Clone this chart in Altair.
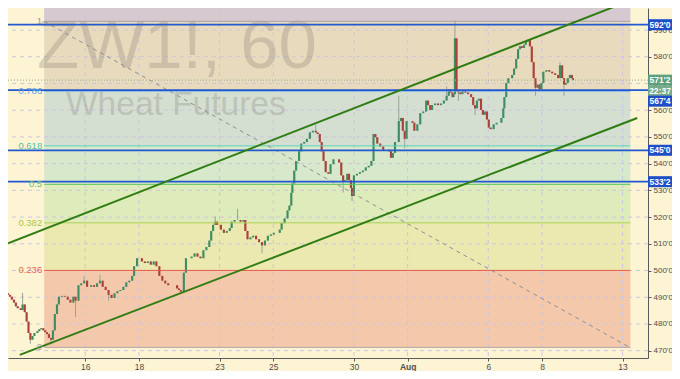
import altair as alt
import pandas as pd

# ---------------- data (time in trading days from Jul 16; prices in cents) ----------------
t = [-2.87, -2.80, -2.73, -2.65, -2.58, -2.51, -2.40, -2.33, -2.25, -2.18,
     -2.11, -2.04, -1.96, -1.89, -1.78, -1.71, -1.64, -1.56, -1.49, -1.42,
     -1.35, -1.27, -1.20, -1.13, -1.05, -0.98, -0.87, -0.76, -0.65, -0.55,
     -0.44, -0.36, -0.25, -0.15, -0.04, 0.07, 0.22, 0.33, 0.44, 0.55,
     0.65, 0.76, 0.87, 0.98, 1.09, 1.20, 1.31, 1.42, 1.53, 1.64,
     1.75, 1.82, 1.93, 2.00, 2.11, 2.22, 2.33, 2.44, 2.55, 2.65,
     2.76, 2.87, 2.98, 3.09, 3.20, 3.31, 3.42, 3.49, 3.56, 3.67,
     3.75, 3.85, 3.96, 4.07, 4.18, 4.29, 4.40, 4.51, 4.62, 4.69,
     4.76, 4.84, 4.91, 4.98, 5.05, 5.16, 5.27, 5.38, 5.45, 5.56,
     5.67, 5.78, 5.89, 5.96, 6.04, 6.15, 6.25, 6.36, 6.47, 6.58,
     6.69, 6.80, 6.91, 7.02, 7.13, 7.24, 7.31, 7.42, 7.53, 7.60,
     7.67, 7.71, 7.78, 7.85, 7.96, 8.04, 8.15, 8.25, 8.36, 8.47,
     8.58, 8.65, 8.73, 8.80, 8.87, 8.95, 9.05, 9.13, 9.24, 9.35,
     9.45, 9.53, 9.60, 9.67, 9.75, 9.82, 9.89, 9.93, 10.00, 10.11,
     10.22, 10.33, 10.44, 10.55, 10.65, 10.73, 10.80, 10.87, 10.98, 11.09,
     11.20, 11.31, 11.38, 11.45, 11.53, 11.60, 11.67, 11.75, 11.82, 11.89,
     11.96, 12.07, 12.18, 12.25, 12.36, 12.47, 12.58, 12.69, 12.76, 12.84,
     12.91, 13.02, 13.13, 13.24, 13.35, 13.45, 13.53, 13.60, 13.67, 13.71,
     13.76, 13.82, 13.89, 13.96, 14.04, 14.15, 14.25, 14.36, 14.44, 14.51,
     14.58, 14.65, 14.73, 14.80, 14.87, 14.95, 15.02, 15.09, 15.20, 15.31,
     15.42, 15.49, 15.56, 15.60, 15.67, 15.75, 15.82, 15.89, 15.96, 16.04,
     16.11, 16.18, 16.25, 16.33, 16.40, 16.47, 16.55, 16.62, 16.69, 16.76,
     16.84, 16.91, 16.98, 17.05, 17.16, 17.27, 17.38, 17.49, 17.60, 17.67,
     17.75, 17.82, 17.89, 17.96, 18.04, 18.11, 18.15]

close = [490.9, 490.2, 489.1, 488.0, 486.6, 485.9, 485.2, 487.3, 484.4, 480.9,
         476.6, 474.1, 475.5, 476.6, 477.3, 478.0, 478.4, 477.6, 476.9, 476.2,
         474.8, 474.1, 477.6, 483.7, 487.3, 490.2, 490.5, 490.2, 489.1, 488.0,
         490.2, 488.7, 494.5, 495.2, 496.2, 493.9, 494.5, 493.9, 495.2, 496.2,
         493.9, 492.7, 490.9, 489.7, 491.5, 492.3, 492.7, 493.9, 495.6, 496.2,
         498.0, 501.6, 504.6, 504.6, 503.4, 502.8, 503.4, 502.2, 503.4, 501.6,
         498.0, 496.2, 495.2, 494.5, 494.5, 494.5, 493.3, 492.7, 492.1, 499.2,
         504.6, 504.6, 505.2, 506.4, 505.2, 504.6, 507.6, 508.8, 511.2, 514.8,
         517.1, 518.3, 517.1, 517.1, 515.3, 514.1, 514.8, 515.9, 518.3, 518.9,
         518.9, 518.3, 518.9, 514.8, 511.7, 512.4, 513.0, 511.7, 510.6, 509.4,
         511.2, 513.0, 513.5, 514.1, 514.1, 515.3, 517.7, 519.5, 522.5, 524.3,
         529.1, 532.6, 537.4, 541.0, 544.6, 547.5, 548.1, 549.3, 551.7, 552.3,
         551.7, 551.1, 548.1, 544.6, 541.0, 536.8, 536.2, 539.8, 541.6, 541.6,
         540.4, 535.6, 533.2, 533.8, 536.2, 533.8, 530.9, 527.9, 535.6, 536.2,
         536.8, 537.4, 538.6, 539.2, 541.0, 551.1, 549.9, 547.5, 546.4, 545.2,
         545.2, 544.6, 542.2, 544.0, 548.1, 548.1, 555.9, 557.1, 552.3, 549.3,
         555.9, 555.9, 555.3, 552.3, 554.7, 558.9, 559.5, 563.6, 561.9, 560.1,
         561.9, 562.5, 561.9, 562.5, 563.6, 565.4, 567.8, 566.6, 564.9, 566.0,
         586.9, 567.1, 566.6, 566.0, 567.2, 566.6, 566.0, 564.9, 561.9, 560.7,
         563.6, 564.3, 560.1, 558.3, 559.5, 556.5, 553.5, 552.9, 554.7, 555.3,
         555.3, 557.1, 560.7, 564.9, 570.2, 572.0, 572.0, 573.2, 575.6, 579.2,
         582.8, 583.9, 583.3, 584.5, 585.7, 586.3, 583.9, 578.0, 572.0, 568.4,
         569.6, 567.8, 570.2, 574.4, 575.0, 574.4, 573.8, 573.2, 572.0, 576.8,
         572.0, 569.6, 570.2, 572.0, 573.2, 572.0, 571.25]
first_open = 491.5

wick_hi_t = [-2.33, -0.04, 0.55, 4.84, 5.67, 8.58, 11.67, 13.45, 13.76, 17.67]
wick_hi_v = [491.6, 498.0, 498.4, 520.2, 523.1, 554.6, 565.4, 568.9, 593.6, 578.0]
wick_lo_t = [-2.04, -1.27, -0.36, 0.87, 6.58, 9.60, 9.93, 11.89, 13.89, 14.51, 16.76, 17.82]
wick_lo_v = [472.6, 472.3, 482.6, 488.7, 506.4, 529.2, 526.1, 545.7, 563.5, 558.2, 565.4, 565.4]

# Fibonacci retracement tool
fib_low, fib_high = 471.25, 593.25
fib_t0, fib_t1 = -1.527, 20.29
fib_levels = [0, 0.236, 0.382, 0.5, 0.618, 0.786, 1]
fib_texts = ["0", "0.236", "0.382", "0.5", "0.618", "0.786", "1"]
fib_line_colors = ["#b3a3a6", "#e8584a", "#a9d155", "#5cc85c", "#5fd0b8", "#64a8e8", "#aaa0a8"]
fib_label_colors = ["#a0a0a0", "#e8665a", "#a8c840", "#66c46a", "#4fbfa6", "#5ea6de", "#9a9a9a"]
band_from = [0, 0.236, 0.382, 0.5, 0.618, 0.786, 1]
band_to = [0.236, 0.382, 0.5, 0.618, 0.786, 1, 1.618]
band_colors = ["#f4c9ab", "#ebe8b0", "#deebba", "#d8e8cb", "#d4dfd2", "#e8dbbd", "#d6c9cf"]

# horizontal levels, last price
hline_prices = [592, 567.5, 545, 533.25]
last_price = 571.25
countdown = "22:37"

# trend channel and diagonal
upper_t, upper_p = [-2.873, 20.945], [510.2, 603.65]
lower_t, lower_p = [-2.436, 20.545], [468.44, 557.09]
diag_t, diag_p = [-1.527, 20.2], [593.25, 471.6]

x_ticks = [0, 2, 5, 7, 10, 12, 15, 17, 20]
x_labels = ["16", "18", "23", "25", "30", "Aug", "6", "8", "13"]
y_ticks = list(range(470, 600, 10))

X_DOMAIN = [-2.873, 20.945]
Y_DOMAIN = [467.26, 598.25]

W, H = 640, 350
BG = "#fdf4d4"
UP, DOWN = "#3f8d62", "#ad4038"
BLUE = "#2358d0"
FONT = "Liberation Sans"

# ---------------- build tables ----------------
opens = [first_open] + close[:-1]
high = [max(o, c) for o, c in zip(opens, close)]
low = [min(o, c) for o, c in zip(opens, close)]
for wt, wv in zip(wick_hi_t, wick_hi_v):
    i = min(range(len(t)), key=lambda k: abs(t[k] - wt))
    high[i] = max(high[i], wv)
for wt, wv in zip(wick_lo_t, wick_lo_v):
    i = min(range(len(t)), key=lambda k: abs(t[k] - wt))
    low[i] = min(low[i], wv)
candles = pd.DataFrame({"t": t, "open": opens, "close": close, "high": high, "low": low})


def lvl_price(l):
    return fib_low + l * (fib_high - fib_low)


bands = pd.DataFrame({
    "x0": fib_t0, "x1": fib_t1,
    "ylo": [lvl_price(a) for a in band_from],
    "yhi": [lvl_price(b) for b in band_to],
    "col": band_colors,
})
fiblines = pd.DataFrame({
    "x0": fib_t0, "x1": fib_t1,
    "p": [lvl_price(l) for l in fib_levels],
    "col": fib_line_colors, "lcol": fib_label_colors, "txt": fib_texts,
})


def fmt_price(p):
    whole = int(p)
    return f"{whole}'{int(round((p - whole) * 8))}"


xs = alt.Scale(domain=X_DOMAIN, nice=False, zero=False)
ys = alt.Scale(domain=Y_DOMAIN, nice=False, zero=False)

xexpr = "''"
for v, lab in reversed(list(zip(x_ticks, x_labels))):
    xexpr = f"datum.value == {v} ? '{lab}' : ({xexpr})"

x_axis = alt.Axis(values=x_ticks, labelExpr=xexpr, grid=False, title=None,
                  domainColor="#5a5a5a", tickColor="#5a5a5a", tickSize=3,
                  labelColor="#4d4d4d", labelFontSize=8.5, labelFont=FONT, labelPadding=1,
                  labelFontWeight={"condition": {"test": "datum.value == 12", "value": "bold"},
                                   "value": "normal"})
y_axis = alt.Axis(orient="right", values=y_ticks, labelExpr="format(datum.value, 'd') + \"'0\"",
                  grid=False, title=None, domainColor="#5a5a5a", tickColor="#5a5a5a",
                  tickSize=3, labelColor="#4d4d4d", labelFontSize=8, labelFont=FONT,
                  labelPadding=2)


def X(f):
    return alt.X(f, type="quantitative", scale=xs, axis=x_axis)


def Y(f):
    return alt.Y(f, type="quantitative", scale=ys, axis=y_axis)


# ---------------- layers ----------------
band_layer = alt.Chart(bands).mark_rect(clip=True).encode(
    x=X("x0"), x2="x1", y=Y("ylo"), y2="yhi",
    color=alt.Color("col:N", scale=None),
)

vgrid = alt.Chart(pd.DataFrame({"v": x_ticks})).mark_rule(
    color="#cdc5df", strokeDash=[4, 4], strokeWidth=1).encode(x=X("v"))
hgrid = alt.Chart(pd.DataFrame({"v": y_ticks})).mark_rule(
    color="#cdc5df", strokeDash=[4, 4], strokeWidth=1).encode(y=Y("v"))

wm1 = alt.Chart(pd.DataFrame({"s": ["ZW1!, 60"]})).mark_text(
    font=FONT, fontSize=69, align="left", baseline="alphabetic", color="#8a8578", opacity=0.3
).encode(x=alt.value(29), y=alt.value(60), text="s:N")
wm2 = alt.Chart(pd.DataFrame({"s": ["Wheat Futures"]})).mark_text(
    font=FONT, fontSize=33.5, align="left", baseline="alphabetic", color="#8a8578", opacity=0.3
).encode(x=alt.value(58), y=alt.value(107), text="s:N")

cbase = alt.Chart(candles)
wicks = cbase.mark_rule(color="#98a49c", strokeWidth=1).encode(
    x=X("t"), y=Y("low"), y2="high")
bodies = cbase.transform_calculate(xa="datum.t - 0.04", xb="datum.t + 0.04").mark_rect().encode(
    x=X("xa"), x2="xb", y=Y("open"), y2="close",
    color=alt.condition("datum.close >= datum.open", alt.value(UP), alt.value(DOWN)),
)

fib_rules = alt.Chart(fiblines).mark_rule(strokeWidth=1).encode(
    x=X("x0"), x2="x1", y=Y("p"), color=alt.Color("col:N", scale=None))
fib_text = alt.Chart(fiblines).mark_text(
    font=FONT, fontSize=9.5, align="right", baseline="middle", dx=-2).encode(
    x=X("x0"), y=Y("p"), text="txt:N", color=alt.Color("lcol:N", scale=None))

diag = alt.Chart(pd.DataFrame({"t": diag_t, "p": diag_p})).mark_line(
    color="#8f8f8f", strokeDash=[4, 4], strokeWidth=1).encode(x=X("t"), y=Y("p"))

chan_up = alt.Chart(pd.DataFrame({"t": upper_t, "p": upper_p})).mark_line(
    color="#2f7d13", strokeWidth=2, clip=True).encode(x=X("t"), y=Y("p"))
chan_lo = alt.Chart(pd.DataFrame({"t": lower_t, "p": lower_p})).mark_line(
    color="#2f7d13", strokeWidth=2, clip=True).encode(x=X("t"), y=Y("p"))

hlines = alt.Chart(pd.DataFrame({"p": hline_prices})).mark_rule(
    color=BLUE, strokeWidth=1.8).encode(y=Y("p"))

last_line = alt.Chart(pd.DataFrame({"p": [last_price]})).mark_rule(
    color="#9fb89a", strokeDash=[1, 2], strokeWidth=1.3).encode(y=Y("p"))

# right-hand price tags
BOX = "M-1,-0.46L1,-0.46L1,0.46L-1,0.46Z"
tags_main = pd.DataFrame({
    "p": [592, last_price, 545, 533.25],
    "txt": [fmt_price(592), fmt_price(last_price), fmt_price(545), fmt_price(533.25)],
    "col": ["#1f4fc8", "#5e9f7d", "#1f4fc8", "#1f4fc8"],
})
tags_shift = pd.DataFrame({
    "p": [last_price, 567.5],
    "txt": [countdown, fmt_price(567.5)],
    "col": ["#76ab8c", "#1f4fc8"],
})


def tag_layers(df, off):
    box = alt.Chart(df).mark_point(shape=BOX, size=576, filled=True, opacity=1,
                                   strokeWidth=0, yOffset=off).encode(
        x=alt.value(652), y=Y("p"), color=alt.Color("col:N", scale=None))
    txt = alt.Chart(df).mark_text(font=FONT, fontSize=8.5, fontWeight="bold", color="white",
                                  align="center", baseline="middle", yOffset=off).encode(
        x=alt.value(652), y=Y("p"), text="txt:N")
    return [box, txt]


layers = [band_layer, vgrid, hgrid, wm1, wm2, wicks, bodies, fib_rules, diag,
          hlines, last_line, chan_up, chan_lo, fib_text] + tag_layers(tags_main, 0) + tag_layers(tags_shift, 11)

chart = alt.layer(*layers).properties(
    width=W, height=H,
    padding={"left": 0, "top": 0, "right": 24, "bottom": 13},
    autosize=alt.AutoSizeParams(type="none"),
    background=BG,
).configure_view(stroke=None)

chart.save("out.html", embed_options={"renderer": "svg", "actions": False})
